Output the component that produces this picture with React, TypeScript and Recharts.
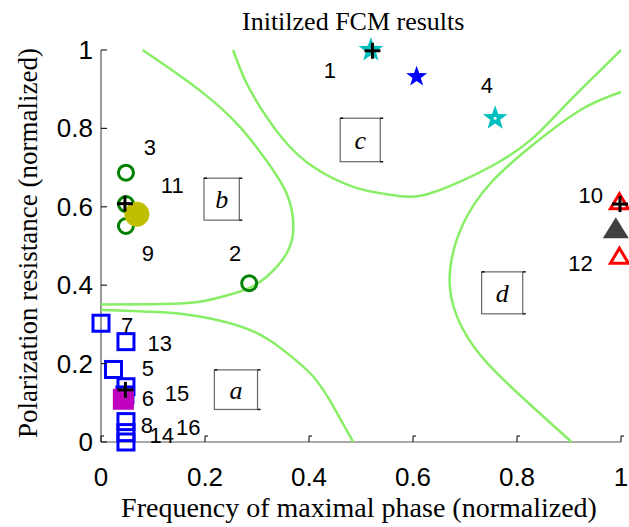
import React from 'react';
import { ScatterChart, Scatter, XAxis, YAxis, ReferenceArea } from 'recharts';

const W = 629;
const H = 527;
const PL = 101;
const PT = 50;
const PR = 621;
const PB = 442;

const SANS = "'Liberation Sans', Arial, Helvetica, sans-serif";
const SERIF = "'Liberation Serif', 'Times New Roman', serif";

const ticks = [0, 0.2, 0.4, 0.6, 0.8, 1];

// FCM partition boundaries
const boundaryA = [
  { x: 0, y: 0.337 }, { x: 0.1, y: 0.332 }, { x: 0.19, y: 0.32 }, { x: 0.286, y: 0.286 },
  { x: 0.35, y: 0.235 }, { x: 0.408, y: 0.167 }, { x: 0.447, y: 0.09 }, { x: 0.485, y: 0 },
];
const boundaryB = [
  { x: 0.08, y: 1 }, { x: 0.19, y: 0.897 }, { x: 0.267, y: 0.804 }, { x: 0.318, y: 0.718 },
  { x: 0.357, y: 0.634 }, { x: 0.37, y: 0.549 }, { x: 0.357, y: 0.481 }, { x: 0.318, y: 0.421 },
  { x: 0.28, y: 0.39 }, { x: 0.24, y: 0.373 }, { x: 0.19, y: 0.358 }, { x: 0.12, y: 0.352 },
  { x: 0, y: 0.351 },
];
const boundaryC = [
  { x: 0.254, y: 1 }, { x: 0.28, y: 0.915 }, { x: 0.318, y: 0.83 }, { x: 0.357, y: 0.762 },
  { x: 0.408, y: 0.702 }, { x: 0.485, y: 0.651 }, { x: 0.55, y: 0.632 }, { x: 0.614, y: 0.628 },
  { x: 0.697, y: 0.668 }, { x: 0.761, y: 0.711 }, { x: 0.826, y: 0.77 }, { x: 0.89, y: 0.855 },
  { x: 0.954, y: 0.94 }, { x: 1, y: 1 },
];
const boundaryD = [
  { x: 1, y: 0.893 }, { x: 0.922, y: 0.847 }, { x: 0.826, y: 0.753 }, { x: 0.749, y: 0.66 },
  { x: 0.697, y: 0.558 }, { x: 0.672, y: 0.447 }, { x: 0.678, y: 0.345 }, { x: 0.717, y: 0.243 },
  { x: 0.781, y: 0.15 }, { x: 0.858, y: 0.056 }, { x: 0.905, y: 0 },
];

// samples per cluster
const clusterA = [
  { x: 0.0, y: 0.303 }, { x: 0.048, y: 0.256 }, { x: 0.024, y: 0.185 }, { x: 0.048, y: 0.141 },
  { x: 0.046, y: 0.12 }, { x: 0.048, y: 0.052 }, { x: 0.048, y: 0.024 }, { x: 0.048, y: 0.0 },
];
const clusterB = [
  { x: 0.048, y: 0.687 }, { x: 0.048, y: 0.607 }, { x: 0.048, y: 0.551 }, { x: 0.285, y: 0.405 },
];
const clusterC = [{ x: 0.519, y: 1.0 }, { x: 0.758, y: 0.826 }];
const clusterD = [{ x: 0.997, y: 0.613 }, { x: 0.997, y: 0.474 }];

// initial centres
const initA = [{ x: 0.043, y: 0.109 }];
const initB = [{ x: 0.069, y: 0.581 }];
const initC = [{ x: 0.607, y: 0.932 }];
const initD = [{ x: 0.99, y: 0.545 }];

// final centroids
const centroids = [
  { x: 0.522, y: 0.998 }, { x: 0.046, y: 0.608 }, { x: 0.047, y: 0.133 }, { x: 0.998, y: 0.607 },
];

// sample numbers
const sampleLabels = [
  { x: 0.44, y: 0.949, t: '1' }, { x: 0.258, y: 0.482, t: '2' }, { x: 0.094, y: 0.753, t: '3' },
  { x: 0.742, y: 0.911, t: '4' }, { x: 0.09, y: 0.189, t: '5' }, { x: 0.09, y: 0.112, t: '6' },
  { x: 0.05, y: 0.298, t: '7' }, { x: 0.088, y: 0.043, t: '8' }, { x: 0.09, y: 0.482, t: '9' },
  { x: 0.942, y: 0.63, t: '10' }, { x: 0.137, y: 0.656, t: '11' }, { x: 0.922, y: 0.456, t: '12' },
  { x: 0.113, y: 0.252, t: '13' }, { x: 0.117, y: 0.018, t: '14' }, { x: 0.146, y: 0.124, t: '15' },
  { x: 0.168, y: 0.039, t: '16' },
];

const regionBoxes = [
  { name: 'a', x1: 0.218, x2: 0.301, y1: 0.083, y2: 0.184 },
  { name: 'b', x1: 0.198, x2: 0.266, y1: 0.566, y2: 0.673 },
  { name: 'c', x1: 0.46, x2: 0.537, y1: 0.715, y2: 0.826 },
  { name: 'd', x1: 0.732, x2: 0.811, y1: 0.327, y2: 0.434 },
];

const starPoints = (cx: number, cy: number, R: number) => {
  const r = R * 0.4;
  const pts: string[] = [];
  for (let i = 0; i < 10; i++) {
    const rad = i % 2 === 0 ? R : r;
    const a = -Math.PI / 2 + (i * Math.PI) / 5;
    pts.push(`${cx + rad * Math.cos(a)},${cy + rad * Math.sin(a)}`);
  }
  return pts.join(' ');
};

const noShape = () => <g />;

const OpenCircle = (p: any) => (
  <circle cx={p.cx} cy={p.cy} r={7.5} fill="none" stroke="#008000" strokeWidth={3} />
);
const OpenSquare = (p: any) => (
  <rect x={p.cx - 8} y={p.cy - 8} width={16} height={16} fill="none" stroke="#0000ff" strokeWidth={3} />
);
const CyanStar = (p: any) => (
  <g>
    <polygon points={starPoints(p.cx, p.cy, 13)} fill="#00bfbf" />
    <circle cx={p.cx} cy={p.cy} r={1.5} fill="#fff" />
  </g>
);
const OpenTriangle = (p: any) => (
  <polygon
    points={`${p.cx},${p.cy - 8} ${p.cx + 9},${p.cy + 7} ${p.cx - 9},${p.cy + 7}`}
    fill="none"
    stroke="#ff0000"
    strokeWidth={3}
  />
);
const FilledSquare = (p: any) => (
  <rect x={p.cx - 10.5} y={p.cy - 10.5} width={21} height={21} fill="#bf00bf" />
);
const FilledCircle = (p: any) => <circle cx={p.cx} cy={p.cy} r={12.5} fill="#bfbf00" />;
const FilledStar = (p: any) => <polygon points={starPoints(p.cx, p.cy, 11)} fill="#0000ff" />;
const FilledTriangle = (p: any) => (
  <polygon
    points={`${p.cx},${p.cy - 11} ${p.cx + 13},${p.cy + 10} ${p.cx - 13},${p.cy + 10}`}
    fill="#404040"
  />
);
const Plus = (p: any) => (
  <g stroke="#000" strokeWidth={3}>
    <line x1={p.cx - 8} x2={p.cx + 8} y1={p.cy} y2={p.cy} />
    <line x1={p.cx} x2={p.cx} y1={p.cy - 8} y2={p.cy + 8} />
  </g>
);
const NumberLabel = (p: any) => (
  <text x={p.cx} y={p.cy + 8} textAnchor="middle" fontSize={22} fontFamily={SANS} fill="#000">
    {p.payload.t}
  </text>
);

// textbox outline with the little dark corner marks
const BoxShape = (p: any) => {
  const { x, y, width, height } = p;
  const r = x + width;
  const b = y + height;
  return (
    <g>
      <rect x={x} y={y} width={width} height={height} fill="none" stroke="#666" strokeWidth={1.2} />
      <g stroke="#111" strokeWidth={1.5}>
        <line x1={x} x2={x + 3} y1={y} y2={y} />
        <line x1={r} x2={r + 3} y1={y} y2={y} />
        <line x1={r} x2={r + 3} y1={b} y2={b} />
      </g>
    </g>
  );
};

const XTick = (props: any) => {
  const { x, payload } = props;
  return (
    <g>
      <line x1={x} x2={x} y1={PB} y2={PB - 6} stroke="#222" strokeWidth={1.2} />
      <line x1={x} x2={x + 3} y1={PB - 6} y2={PB - 6} stroke="#222" strokeWidth={1.2} />
      <text x={x} y={486} textAnchor="middle" fontSize={26} fontFamily={SANS} fill="#000">
        {payload.value}
      </text>
    </g>
  );
};

const YTick = (props: any) => {
  const { y, payload } = props;
  return (
    <g>
      <line x1={PL} x2={PL + 6} y1={y} y2={y} stroke="#222" strokeWidth={1.2} />
      <text x={93} y={y + 9} textAnchor="end" fontSize={26} fontFamily={SANS} fill="#000">
        {payload.value}
      </text>
    </g>
  );
};

const curveLine = { stroke: '#88ee66', strokeWidth: 2.5 };

export default function App() {
  return (
    <div style={{ position: 'absolute', left: 0, top: 0, width: W, height: H, background: '#fff' }}>
      <ScatterChart width={W} height={H} margin={{ top: PT, right: W - PR, bottom: 0, left: 0 }}>
        <XAxis
          type="number"
          dataKey="x"
          domain={[0, 1]}
          ticks={ticks}
          height={H - PB}
          tickLine={false}
          tickSize={0}
          tick={<XTick />}
          axisLine={{ stroke: '#555', strokeWidth: 1.2 }}
          interval={0}
          label={{
            content: () => (
              <text x={359} y={517} textAnchor="middle" fontSize={28} fontFamily={SERIF} fill="#000">
                Frequency of maximal phase (normalized)
              </text>
            ),
          }}
        />
        <YAxis
          type="number"
          dataKey="y"
          domain={[0, 1]}
          ticks={ticks}
          width={PL}
          tickLine={false}
          tickSize={0}
          tick={<YTick />}
          axisLine={{ stroke: '#555', strokeWidth: 1.2 }}
          interval={0}
          label={{
            content: () => (
              <text
                x={37}
                y={243}
                transform="rotate(-90, 37, 243)"
                textAnchor="middle"
                fontSize={27}
                fontFamily={SERIF}
                fill="#000"
              >
                Polarization resistance (normalized)
              </text>
            ),
          }}
        />
        {regionBoxes.map((b) => (
          <ReferenceArea
            key={b.name}
            x1={b.x1}
            x2={b.x2}
            y1={b.y1}
            y2={b.y2}
            shape={BoxShape}
            label={{
              value: b.name,
              position: 'center',
              fontSize: 26,
              fontFamily: SERIF,
              fontStyle: 'italic',
              fill: '#000',
            }}
          />
        ))}
        <Scatter data={boundaryA} line={curveLine} lineJointType="natural" shape={noShape} isAnimationActive={false} />
        <Scatter data={boundaryB} line={curveLine} lineJointType="natural" shape={noShape} isAnimationActive={false} />
        <Scatter data={boundaryC} line={curveLine} lineJointType="natural" shape={noShape} isAnimationActive={false} />
        <Scatter data={boundaryD} line={curveLine} lineJointType="natural" shape={noShape} isAnimationActive={false} />
        <Scatter data={clusterA} shape={OpenSquare} isAnimationActive={false} />
        <Scatter data={clusterB} shape={OpenCircle} isAnimationActive={false} />
        <Scatter data={clusterC} shape={CyanStar} isAnimationActive={false} />
        <Scatter data={clusterD} shape={OpenTriangle} isAnimationActive={false} />
        <Scatter data={initA} shape={FilledSquare} isAnimationActive={false} />
        <Scatter data={initB} shape={FilledCircle} isAnimationActive={false} />
        <Scatter data={initC} shape={FilledStar} isAnimationActive={false} />
        <Scatter data={initD} shape={FilledTriangle} isAnimationActive={false} />
        <Scatter data={centroids} shape={Plus} isAnimationActive={false} />
        <Scatter data={sampleLabels} shape={NumberLabel} isAnimationActive={false} />
      </ScatterChart>
      <svg width={W} height={40} style={{ position: 'absolute', left: 0, top: 0, pointerEvents: 'none' }}>
        <text x={242} y={30} fontSize={26} fontFamily={SERIF} fill="#000">
          Initilzed FCM results
        </text>
      </svg>
    </div>
  );
}
